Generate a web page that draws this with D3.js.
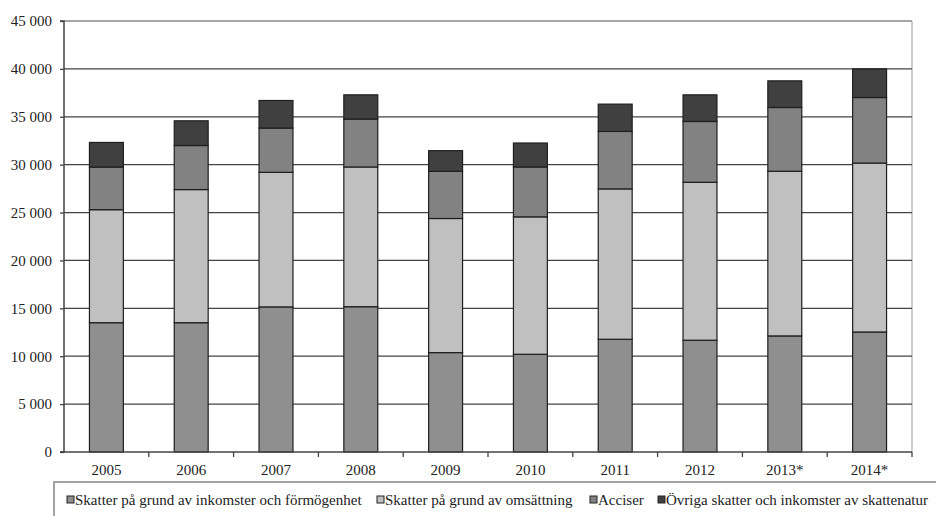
<!DOCTYPE html>
<html>
<head>
<meta charset="utf-8">
<script src="https://cdn.jsdelivr.net/npm/d3@7/dist/d3.min.js"></script>
<style>
  html, body { margin: 0; padding: 0; background: #fff; }
  svg { display: block; font-family: "Liberation Serif", "DejaVu Serif", serif; }
</style>
</head>
<body>
<svg id="chart" width="936" height="516"></svg>
<script>
const years = ["2005", "2006", "2007", "2008", "2009", "2010", "2011", "2012", "2013*", "2014*"];
const seriesNames = [
  "Skatter på grund av inkomster och förmögenhet",
  "Skatter på grund av omsättning",
  "Acciser",
  "Övriga skatter och inkomster av skattenatur"
];
const inkomster  = [13500, 13500, 15150, 15170, 10380, 10200, 11770, 11670, 12120, 12530];
const omsattning = [11800, 13900, 14050, 14590, 14000, 14350, 15700, 16490, 17190, 17640];
const acciser    = [4450, 4600, 4620, 5000, 4920, 5210, 6000, 6350, 6660, 6840];
const ovriga     = [2570, 2580, 2880, 2530, 2160, 2500, 2850, 2780, 2780, 2990];
const yTicks = [0, 5000, 10000, 15000, 20000, 25000, 30000, 35000, 40000, 45000];

const colors = ["#8f8f8f", "#c0c0c0", "#828282", "#404040"];
const seriesData = [inkomster, omsattning, acciser, ovriga];

const table = years.map((yr, i) => {
  const o = { year: yr };
  seriesNames.forEach((s, k) => o[s] = seriesData[k][i]);
  return o;
});

const svg = d3.select("#chart");
const pL = 64, pR = 912, pT = 21, pB = 452;

const x = d3.scaleBand().domain(years).range([pL, pR]).padding(0);
const y = d3.scaleLinear().domain([0, 45000]).range([pB, pT]);
const fmt = d3.formatLocale({ decimal: ",", thousands: " ", grouping: [3], currency: ["", ""] }).format(",");

// plot border (light)
svg.append("line").attr("x1", pR).attr("x2", pR).attr("y1", pT).attr("y2", pB)
  .attr("stroke", "#aaa").attr("stroke-width", 1.2);

// gridlines
svg.append("g").selectAll("line").data(yTicks.filter(d => d > 0)).join("line")
  .attr("x1", pL).attr("x2", pR)
  .attr("y1", d => y(d)).attr("y2", d => y(d))
  .attr("stroke", d => d === 45000 ? "#888" : "#444").attr("stroke-width", 1.3);

// bars
const stack = d3.stack().keys(seriesNames)(table);
const bw = x.bandwidth() * 0.4;
svg.append("g").selectAll("g").data(stack).join("g")
  .attr("fill", (d, i) => colors[i])
  .selectAll("rect").data(d => d).join("rect")
  .attr("x", d => x(d.data.year) + (x.bandwidth() - bw) / 2)
  .attr("width", bw)
  .attr("y", d => y(d[1]))
  .attr("height", d => y(d[0]) - y(d[1]))
  .attr("stroke", "#1e1e1e").attr("stroke-width", 1.2);

// y axis
const yAxis = d3.axisLeft(y).tickValues(yTicks).tickFormat(fmt).tickSize(4).tickPadding(8);
const gy = svg.append("g").attr("transform", `translate(${pL},0)`).call(yAxis);
gy.select(".domain").attr("stroke", "#444").attr("stroke-width", 1.5).attr("d", `M-4,${pT}H0V${pB}H-4`);
gy.selectAll(".tick line").attr("stroke", "#444").attr("stroke-width", 1.3);
gy.selectAll(".tick text").attr("font-size", 15).attr("fill", "#222")
  .attr("font-family", "Liberation Serif");

// x axis
const gx = svg.append("g").attr("transform", `translate(0,${pB})`);
gx.append("line").attr("x1", pL - 4).attr("x2", pR).attr("y1", 0).attr("y2", 0)
  .attr("stroke", "#444").attr("stroke-width", 1.5);
const bounds = years.map(d => x(d) + x.bandwidth());
gx.selectAll("line.tk").data(bounds).join("line").attr("class", "tk")
  .attr("x1", d => d).attr("x2", d => d).attr("y1", 0).attr("y2", 5)
  .attr("stroke", "#444").attr("stroke-width", 1.3);
gx.selectAll("text").data(years).join("text")
  .attr("x", d => x(d) + x.bandwidth() / 2).attr("y", 23)
  .attr("text-anchor", "middle").attr("font-size", 15).attr("fill", "#222")
  .text(d => d);

// legend
const lg = svg.append("g");
lg.append("rect").attr("x", 54).attr("y", 482).attr("width", 920).attr("height", 60)
  .attr("fill", "#fff").attr("stroke", "#999").attr("stroke-width", 1.8);
const legendX = [67, 377, 590, 658];
const items = lg.selectAll("g.item").data(seriesNames).join("g").attr("class", "item")
  .attr("transform", (d, i) => `translate(${legendX[i]},0)`);
items.append("rect").attr("x", 0).attr("y", 496).attr("width", 7).attr("height", 7)
  .attr("fill", (d, i) => colors[i]).attr("stroke", "#222").attr("stroke-width", 1);
items.append("text").attr("x", 8).attr("y", 505).attr("font-size", 15).attr("fill", "#222")
  .text(d => d);
</script>
</body>
</html>
